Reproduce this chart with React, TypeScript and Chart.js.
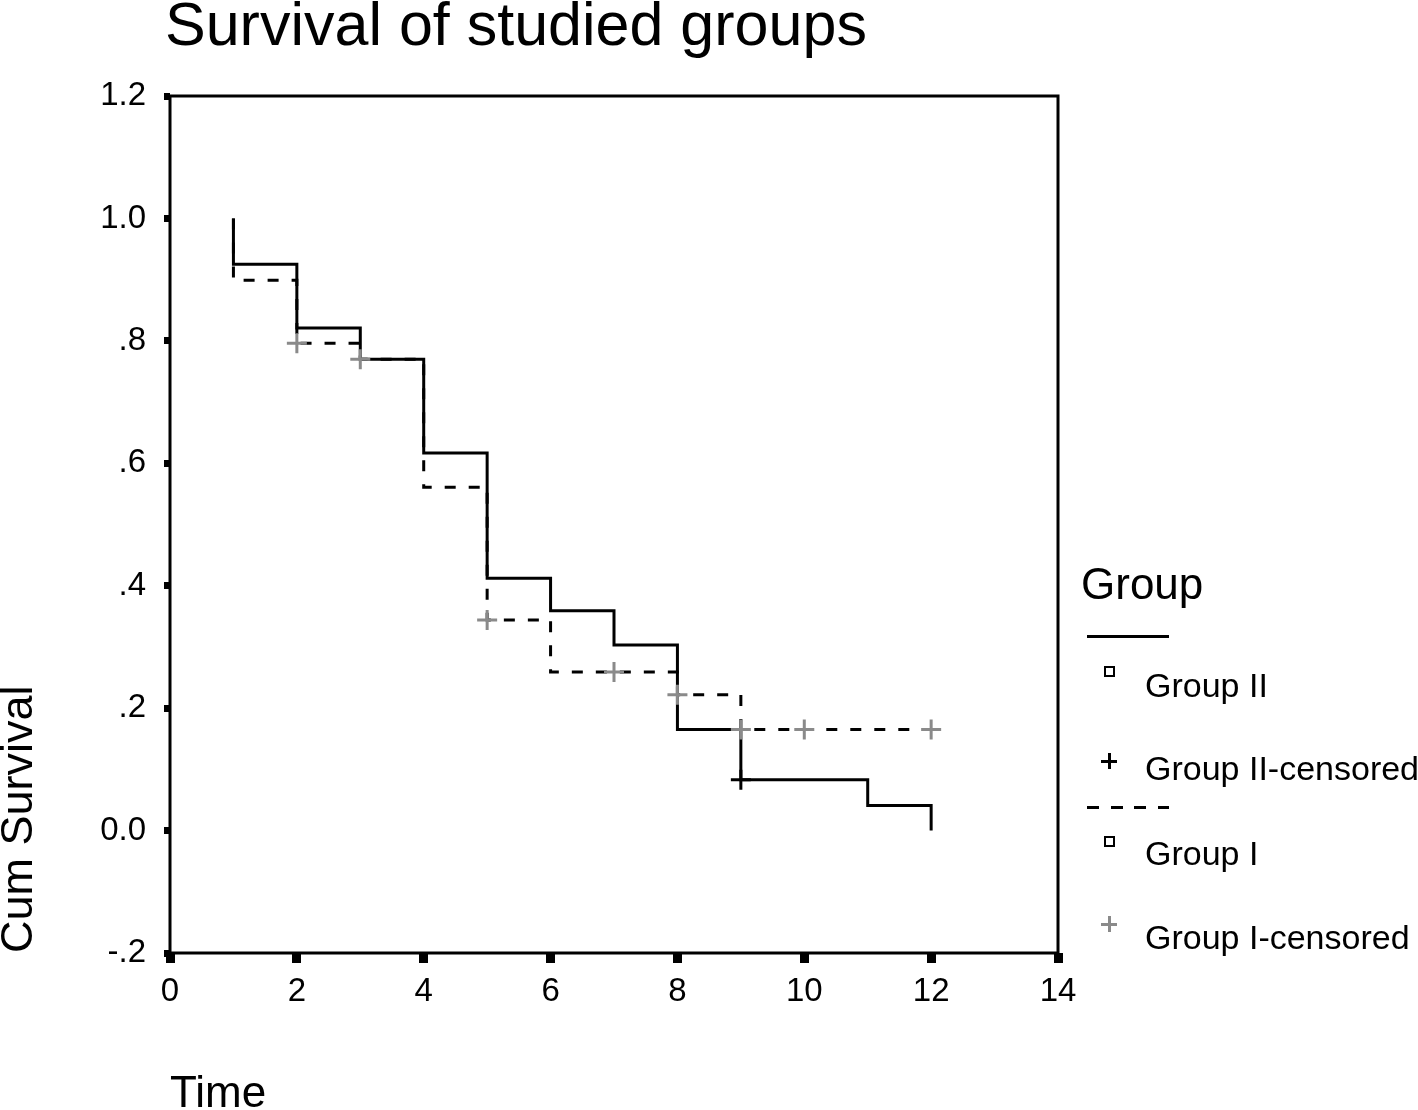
import React, { useEffect, useRef } from 'react';
import { Chart, registerables } from 'chart.js';

Chart.register(...registerables);

// ---- data ----
const xTickValues = [0, 2, 4, 6, 8, 10, 12, 14];
const yTickValues = [-0.2, 0, 0.2, 0.4, 0.6, 0.8, 1.0, 1.2];
const yTickLabels = ['-.2', '0.0', '.2', '.4', '.6', '.8', '1.0', '1.2'];

// Group II (solid) survival steps
const groupIITimes = [1, 1, 2, 3, 4, 5, 6, 7, 8, 9, 11, 12];
const groupIISurvival = [1.0, 0.925, 0.821, 0.77, 0.617, 0.412, 0.359, 0.303, 0.165, 0.083, 0.041, 0.0];
const groupIICensoredTimes = [9];
const groupIICensoredSurvival = [0.083];

// Group I (dashed) survival steps
const groupITimes = [1, 1, 2, 3, 4, 5, 6, 8, 9, 12];
const groupISurvival = [1.0, 0.899, 0.796, 0.77, 0.561, 0.344, 0.259, 0.222, 0.165, 0.165];
const groupICensoredTimes = [2, 3, 5, 7, 8, 9, 10, 12];
const groupICensoredSurvival = [0.796, 0.77, 0.344, 0.259, 0.222, 0.165, 0.165, 0.165];

const FONT = '"Liberation Sans", Arial, Helvetica, sans-serif';
const GRAY = '#8a8a8a';

const pts = (xs: number[], ys: number[]) => xs.map((x, i) => ({ x, y: ys[i] }));

export default function App() {
  const ref = useRef<HTMLCanvasElement>(null);

  useEffect(() => {
    if (!ref.current) return;
    const frame = {
      id: 'frame',
      beforeDatasetsDraw(chart: any) {
        const { ctx, chartArea: a } = chart;
        ctx.save();
        ctx.strokeStyle = '#000';
        ctx.lineWidth = 3;
        ctx.strokeRect(a.left, a.top, a.right - a.left, a.bottom - a.top);
        ctx.restore();
      },
    };
    const chart = new Chart(ref.current, {
      type: 'scatter',
      data: {
        datasets: [
          {
            label: 'Group II-censored',
            data: pts(groupIICensoredTimes, groupIICensoredSurvival),
            showLine: false,
            pointStyle: 'cross',
            pointRadius: 10,
            pointHoverRadius: 10,
            pointBorderWidth: 3,
            pointBorderColor: '#000',
            pointBackgroundColor: '#000',
            order: 0,
          },
          {
            label: 'Group I-censored',
            data: pts(groupICensoredTimes, groupICensoredSurvival),
            showLine: false,
            pointStyle: 'cross',
            pointRadius: 10,
            pointHoverRadius: 10,
            pointBorderWidth: 3,
            pointBorderColor: GRAY,
            pointBackgroundColor: GRAY,
            order: 1,
          },
          {
            label: 'Group II',
            data: pts(groupIITimes, groupIISurvival),
            showLine: true,
            stepped: 'before',
            borderColor: '#000',
            borderWidth: 3,
            pointRadius: 0,
            pointHoverRadius: 0,
            fill: false,
            borderCapStyle: 'butt',
            borderJoinStyle: 'miter',
            order: 2,
          },
          {
            label: 'Group I',
            data: pts(groupITimes, groupISurvival),
            showLine: true,
            stepped: 'before',
            borderColor: '#000',
            borderWidth: 3,
            borderDash: [11, 13],
            pointRadius: 0,
            pointHoverRadius: 0,
            fill: false,
            borderCapStyle: 'butt',
            borderJoinStyle: 'miter',
            order: 3,
          },
        ],
      } as any,
      options: {
        animation: false,
        responsive: false,
        maintainAspectRatio: false,
        layout: { padding: { left: 0, top: 96, right: 360, bottom: 0 } },
        plugins: {
          legend: { display: false },
          tooltip: { enabled: false },
          title: { display: false },
        },
        scales: {
          x: {
            type: 'linear',
            min: 0,
            max: 14,
            afterBuildTicks: (s: any) => {
              s.ticks = xTickValues.map((v) => ({ value: v }));
            },
            afterFit: (s: any) => {
              s.height = 157;
            },
            ticks: {
              autoSkip: false,
              maxRotation: 0,
              color: '#000',
              padding: 9,
              font: { size: 33, family: FONT },
              callback: (v: any) => String(v),
            },
            grid: {
              drawOnChartArea: false,
              drawTicks: true,
              tickLength: 10,
              tickWidth: 9,
              tickColor: '#000',
            },
            border: { display: false },
            title: {
              display: true,
              text: 'Time',
              align: 'start',
              color: '#000',
              padding: { top: 0, bottom: -2 },
              font: { size: 44, family: FONT, lineHeight: 0.8 },
            },
          },
          y: {
            type: 'linear',
            min: -0.2,
            max: 1.2,
            afterBuildTicks: (s: any) => {
              s.ticks = yTickValues.map((v) => ({ value: v }));
            },
            afterFit: (s: any) => {
              s.width = 170;
            },
            ticks: {
              autoSkip: false,
              color: '#000',
              padding: 18,
              font: { size: 33, family: FONT },
              callback: (_v: any, i: number) => yTickLabels[i],
            },
            grid: {
              drawOnChartArea: false,
              drawTicks: true,
              tickLength: 6,
              tickWidth: 7,
              tickColor: '#000',
            },
            border: { display: false },
            title: {
              display: true,
              text: 'Cum Survival',
              align: 'start',
              color: '#000',
              padding: { top: 2, bottom: 0 },
              font: { size: 45, family: FONT, lineHeight: 0.8 },
            },
          },
        },
      } as any,
      plugins: [frame],
    });
    return () => chart.destroy();
  }, []);

  const text = (content: string, left: number, top: number, size: number) => (
    <div
      style={{
        position: 'absolute',
        left,
        top,
        fontFamily: FONT,
        fontSize: size,
        lineHeight: `${size}px`,
        whiteSpace: 'nowrap',
        color: '#000',
      }}
    >
      {content}
    </div>
  );

  const plus = (cx: number, cy: number, color: string) => (
    <>
      <div style={{ position: 'absolute', left: cx - 8, top: cy - 1.5, width: 16, height: 3, background: color }} />
      <div style={{ position: 'absolute', left: cx - 1.5, top: cy - 8, width: 3, height: 16, background: color }} />
    </>
  );

  const square = (left: number, top: number) => (
    <div
      style={{
        position: 'absolute',
        left,
        top,
        width: 7,
        height: 7,
        border: '2.5px solid #000',
      }}
    />
  );

  return (
    <div style={{ position: 'absolute', left: 0, top: 0, width: 1418, height: 1110, background: '#fff', overflow: 'hidden' }}>
      <canvas ref={ref} width={1418} height={1110} style={{ position: 'absolute', left: 0, top: 0 }} />
      {text('Survival of studied groups', 165, -6, 61)}
      {text('Group', 1081, 562, 44)}
      <div style={{ position: 'absolute', left: 1087, top: 635, width: 82, height: 3, background: '#000' }} />
      {square(1104, 666)}
      {text('Group II', 1145, 668, 34)}
      {plus(1109, 761, '#000')}
      {text('Group II-censored', 1145, 751, 34)}
      <div
        style={{
          position: 'absolute',
          left: 1087,
          top: 806,
          width: 82,
          height: 3,
          background: 'repeating-linear-gradient(to right, #000 0px, #000 12px, transparent 12px, transparent 23.5px)',
        }}
      />
      {square(1104, 836)}
      {text('Group I', 1145, 836, 34)}
      {plus(1109, 924, GRAY)}
      {text('Group I-censored', 1145, 920, 34)}
    </div>
  );
}
